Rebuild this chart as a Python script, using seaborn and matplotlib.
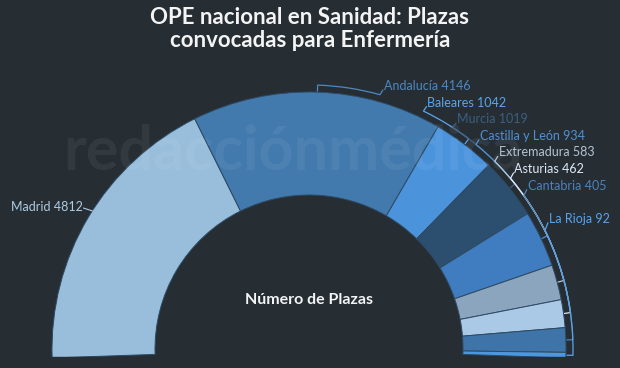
import numpy as np
import matplotlib
matplotlib.use('Agg')
import matplotlib.pyplot as plt
import seaborn as sns
from matplotlib.patches import Wedge, Arc, Rectangle

regions = ['Madrid', 'Andalucía', 'Baleares', 'Murcia', 'Castilla y León',
           'Extremadura', 'Asturias', 'Cantabria', 'La Rioja']
plazas = [4812, 4146, 1042, 1019, 934, 583, 462, 405, 92]
slice_colors = ['#98bedc', '#427aae', '#4b94dc', '#2c4f6f', '#3f7dc0',
                '#8aa5bd', '#a9c9e6', '#3e74a8', '#4b97e2']
label_colors = ['#b0cbe2', '#4d88c2', '#5aa5ee', '#3d5f80', '#4f90d4',
                '#b4c4d2', '#dde9f5', '#4d82b8', '#5aa3ec']
title = 'OPE nacional en Sanidad: Plazas\nconvocadas para Enfermería'
center_text = 'Número de Plazas'
watermark = 'redacciónmédica'

bg = '#262e34'
sns.set_theme(style='dark', rc={'figure.facecolor': bg, 'axes.facecolor': bg})
plt.rcParams['font.family'] = ['Lato', 'DejaVu Sans']

W, H = 620, 368
fig = plt.figure(figsize=(6.2, 3.68), dpi=100, facecolor=bg)
ax = fig.add_axes([0, 0, 1, 1])
ax.set_xlim(0, W)
ax.set_ylim(0, H)
ax.axis('off')

# pie geometry in pixels (y up)
cx, cy = 309, H - 349
R, r_in = 257, 154
start, end = 182, -2
vals = np.array(plazas, dtype=float)
edges = start - np.concatenate([[0], np.cumsum(vals)]) / vals.sum() * (start - end)
mids = (edges[:-1] + edges[1:]) / 2

for i in range(len(vals)):
    ax.add_patch(Wedge((cx, cy), R, edges[i + 1], edges[i], width=R - r_in,
                       facecolor=slice_colors[i], edgecolor='#2e4a64', lw=0.7, zorder=2))

# cut the bottom flat
ax.add_patch(Rectangle((0, 0), W, H - 357, color=bg, zorder=6))

ax.text(63, H - 170, watermark, fontsize=44, fontweight='bold', color='white',
        alpha=0.06, va='baseline', ha='left', zorder=3)

r_conn, r_tick, r_text = 264, 258, 272.5


def pt(r, a):
    return cx + r * np.cos(np.radians(a)), cy + r * np.sin(np.radians(a))


# Madrid label on the left, near its own angle
x0, y0 = pt(R, mids[0] - 1.7)
x1, y1 = pt(266, mids[0] - 1.2)
ax.plot([x0, x1], [y0, y1], color=label_colors[0], lw=0.8, zorder=4)
ax.text(x1 - 1, y1 + 1, f'{regions[0]} {plazas[0]}', color=label_colors[0],
        fontsize=9, ha='right', va='center', zorder=4)

# right side labels stacked in slots
label_top, label_step = 87, 16.6
slots = [0, 1, 2, 3, 4, 5, 6, 8]
for i, s in zip(range(1, len(vals)), slots):
    y_up = H - (label_top + label_step * s)
    tx = cx + np.sqrt(r_text ** 2 - (y_up - cy) ** 2)
    aC = np.degrees(np.arccos((tx - 4 - cx) / r_conn))
    c = label_colors[i]
    a_lo, a_hi = sorted([aC, mids[i]])
    ax.add_patch(Arc((cx, cy), 2 * r_conn, 2 * r_conn, theta1=a_lo, theta2=a_hi,
                     color=c, lw=0.9, zorder=4))
    tx0, ty0 = pt(r_conn, mids[i])
    tx1, ty1 = pt(r_tick, mids[i])
    ax.plot([tx0, tx1], [ty0, ty1], color=c, lw=0.9, zorder=4)
    px, py = pt(r_conn, aC)
    ax.plot([px, tx - 1], [py, y_up - 3], color=c, lw=0.9, zorder=4)
    ax.text(tx, y_up + 1, f'{regions[i]} {plazas[i]}', color=c,
            fontsize=9, ha='left', va='center', zorder=4)

ax.text(cx, H - 300, center_text, color='#f2f4f6', fontsize=11.5, fontweight='bold',
        ha='center', va='center', zorder=4)
ax.text(W / 2, H - 29, title, color='#f4f4f4', fontsize=16, fontweight='bold',
        ha='center', va='center', linespacing=1.1, zorder=4)

fig.savefig('out.png', dpi=100, facecolor=bg)
